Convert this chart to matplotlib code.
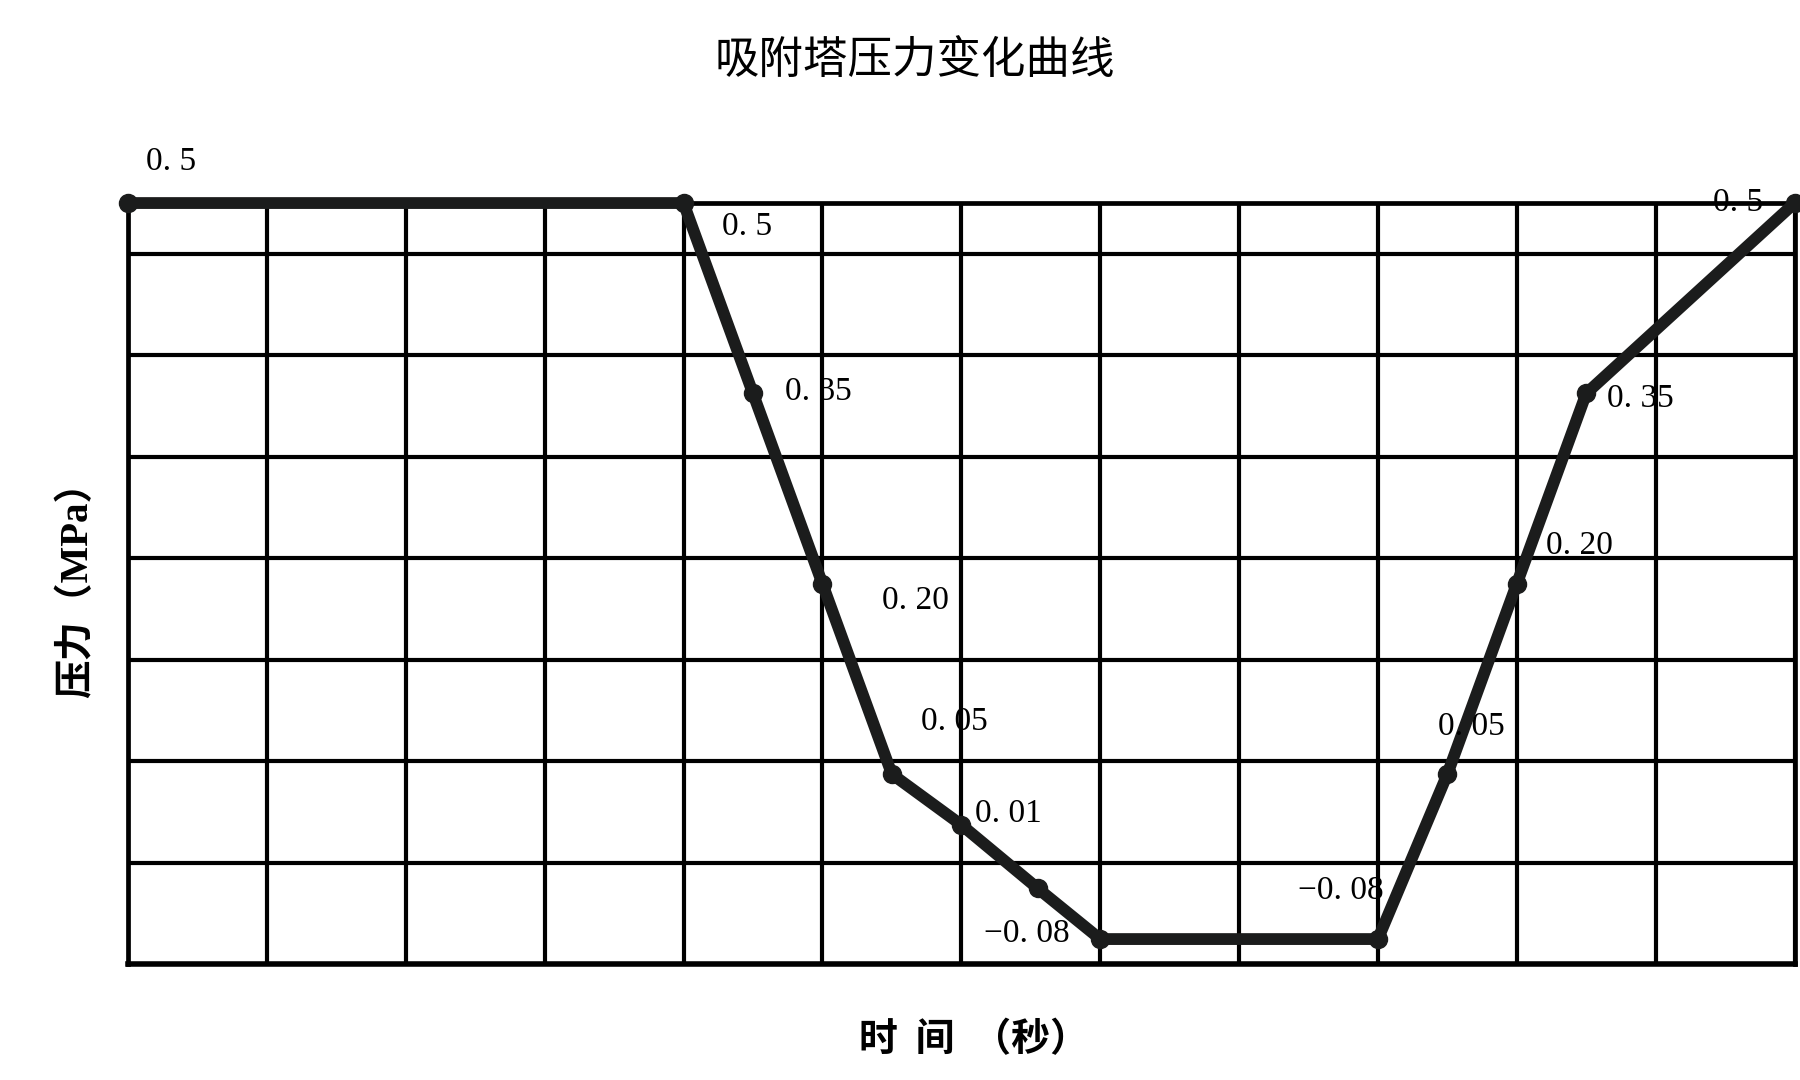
import numpy as np
import matplotlib
matplotlib.use('Agg')
import matplotlib.pyplot as plt

# ------------------------------------------------------------------------
# data (time in grid columns, pressure in MPa)
time_pts = [0, 4, 4.5, 5, 5.5, 6, 6.55, 7, 9, 9.5, 10, 10.5, 12]
pressure = [0.5, 0.5, 0.35, 0.20, 0.05, 0.01, -0.04, -0.08, -0.08, 0.05, 0.20, 0.35, 0.5]
point_labels = ['0. 5', '0. 5', '0. 35', '0. 20', '0. 05', '0. 01', '',
                '−0. 08', '−0. 08', '0. 05', '0. 20', '0. 35', '0. 5']

x_grid = np.arange(0, 13, 1)
y_grid = [-0.02, 0.06, 0.14, 0.22, 0.30, 0.38, 0.46]

title_txt = '吸附塔压力变化曲线'
xlabel_txt = '时  间  （秒）'
ylabel_txt = '压力（MPa）'

# label offsets in points (dx, dy), one per point
label_off = [(31, 30), (46, -17), (47, 1), (67, -12), (45, 38), (34, 8), (0, 0),
             (-53, 4), (-27, 35), (17, 34), (45, 27), (39, -4), (-41, 0)]

cjk = ['Noto Sans CJK SC', 'DejaVu Sans']
serif = ['Liberation Serif', 'Noto Sans CJK SC']

# ------------------------------------------------------------------------
fig = plt.figure(figsize=(18, 10.8), dpi=100)
ax = fig.add_axes([0.0711, 0.107, 0.997 - 0.0711, 0.812 - 0.107])

ax.set_xlim(0, 12)
ax.set_ylim(-0.10, 0.50)
ax.set_xticks(x_grid)
ax.set_yticks(y_grid)
ax.tick_params(length=0, labelbottom=False, labelleft=False)
ax.grid(True, color='black', lw=3.0)
ax.set_axisbelow(True)
for s in ax.spines.values():
    s.set_color('black')
    s.set_linewidth(3.4)
ax.spines['bottom'].set_linewidth(4)

ax.plot(time_pts, pressure, color='#1b1c1c', lw=8.5, marker='o', ms=13,
        solid_joinstyle='round', clip_on=False, zorder=5)

for xx, yy, lab, off in zip(time_pts, pressure, point_labels, label_off):
    if not lab:
        continue
    ax.annotate(lab, (xx, yy), xytext=off, textcoords='offset points',
                ha='center', va='center', fontsize=24, family=serif,
                color='black', zorder=6, annotation_clip=False)

fig.text(0.508, 0.944, title_txt, ha='center', va='center', fontsize=32,
         family=cjk, color='black')
fig.text(0.541, 0.037, xlabel_txt, ha='center', va='center', fontsize=28,
         family=cjk, weight='bold', color='black')
fig.text(0.043, 0.463, ylabel_txt, ha='center', va='center', fontsize=28,
         rotation=90, family=serif, weight='bold', color='black')

fig.savefig('out.png', dpi=100, facecolor='white')
